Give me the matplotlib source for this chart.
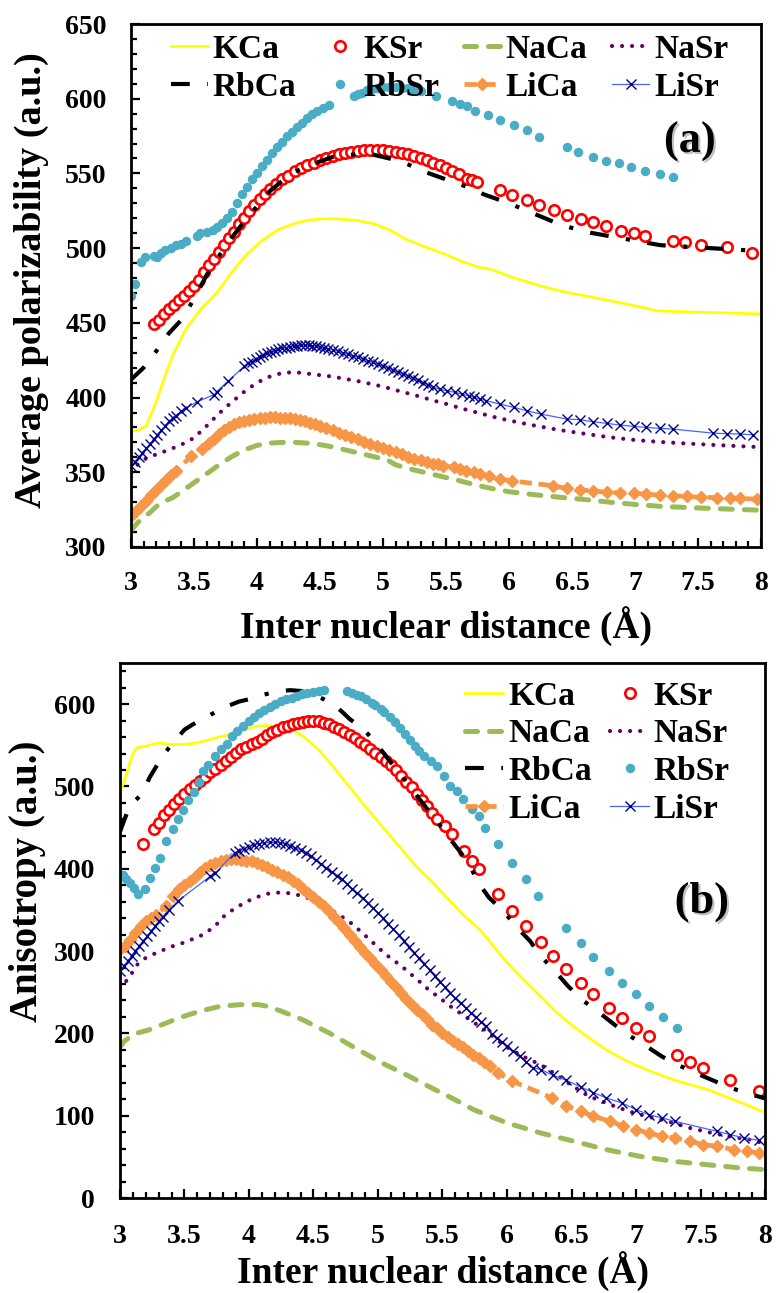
import matplotlib
matplotlib.use("Agg")
import matplotlib.pyplot as plt
import matplotlib.patheffects as pe
from matplotlib.ticker import MultipleLocator

plt.rcParams['font.family'] = ['Liberation Serif', 'DejaVu Serif']
plt.rcParams['font.weight'] = 'bold'

# ---------------- panel (a): average polarizability ----------------
kca_a_x = [3.00, 3.08, 3.12, 3.20, 3.26, 3.33, 3.43, 3.55, 3.69, 3.80, 3.92, 4.04, 4.16, 4.28, 4.39,
           4.50, 4.63, 4.80, 4.94, 5.06, 5.18, 5.33, 5.49, 5.63, 5.77, 5.85, 6.04, 6.28, 6.48, 6.67,
           6.85, 7.03, 7.18, 7.46, 7.75, 8.00]
kca_a_y = [377, 379, 381, 397, 412, 428, 445, 459, 471, 484, 496, 505, 512, 516, 518.5,
           519.5, 519.7, 518.5, 516, 512, 506, 501, 496, 491, 487, 486, 480, 474, 470, 467,
           464, 461, 458, 457.2, 456.6, 456]

ksr_a_x = [3.18, 3.22, 3.26, 3.30, 3.34, 3.38, 3.42, 3.46, 3.50, 3.54, 3.58, 3.62, 3.66, 3.70, 3.74,
           3.78, 3.82, 3.86, 3.90, 3.94, 3.98, 4.02, 4.06, 4.10, 4.15, 4.20, 4.25, 4.30, 4.35, 4.40,
           4.45, 4.50, 4.55, 4.60, 4.65, 4.70, 4.75, 4.80, 4.85, 4.90, 4.95, 5.00, 5.05, 5.10, 5.15,
           5.20, 5.25, 5.30, 5.35, 5.40, 5.45, 5.50, 5.55, 5.60, 5.67, 5.71, 5.75,
           5.93, 6.02, 6.14, 6.24, 6.36, 6.46, 6.57, 6.67, 6.77, 6.89, 6.99, 7.08, 7.30, 7.40, 7.52,
           7.73, 7.93]
ksr_a_y = [449, 452, 455.6, 459, 462, 465, 468, 471, 474.5, 479, 484, 488.5, 493, 497.5, 502,
           506.5, 511, 516, 520.5, 525, 529, 533, 536, 539.5, 543, 546, 548.5, 551.5, 553.5, 555.5,
           557, 559, 560.5, 561.8, 562.8, 563.8, 564.6, 565.2, 565.6, 565.8, 565.8, 565.6, 565.2, 564.6, 563.8,
           562.8, 561.6, 560.2, 558.8, 557, 555.4, 553.5, 551.5, 549.3, 546.6, 545.5, 544.4,
           538.8, 535.4, 532.0, 528.7, 525.3, 521.9, 519.7, 517.4, 514.5, 511.8, 510.0, 508.4, 505.1, 503.9, 502.4,
           500.6, 496.5]

naca_a_x = [3.00, 3.05, 3.10, 3.15, 3.20, 3.25, 3.33, 3.40, 3.50, 3.60, 3.70, 3.80, 3.90, 4.00, 4.10,
            4.20, 4.30, 4.40, 4.50, 4.60, 4.70, 4.80, 4.90, 5.00, 5.05, 5.10, 5.20, 5.30, 5.40, 5.50,
            5.60, 5.70, 5.80, 5.90, 6.00, 6.20, 6.40, 6.60, 6.80, 7.00, 7.20, 7.40, 7.60, 7.80, 8.00]
naca_a_y = [311, 316, 320, 323, 327, 330, 333, 337, 343, 349, 355, 360.5, 365, 368, 369.5,
            370, 370, 369.5, 368.5, 367, 365, 363, 361, 359, 357.5, 355, 352.5, 350.5, 348.5, 346.5,
            344.5, 342.3, 340.3, 338.5, 337, 335, 333.3, 331.8, 330, 328.5, 327.2, 326.5, 325.8, 325.2, 324.6]

nasr_a_x = [3.00, 3.05, 3.10, 3.20, 3.30, 3.40, 3.50, 3.60, 3.70, 3.80, 3.90, 4.00, 4.10, 4.20, 4.30,
            4.40, 4.50, 4.60, 4.70, 4.80, 4.90, 5.00, 5.10, 5.20, 5.30, 5.40, 5.50, 5.60, 5.70, 5.80,
            5.90, 6.00, 6.20, 6.40, 6.60, 6.80, 7.00, 7.20, 7.40, 7.60, 7.80, 8.00]
nasr_a_y = [350, 355, 358.5, 362, 365, 368.5, 373, 381, 389.5, 397, 404, 410, 414, 416.5, 417,
            416, 415, 414, 412.5, 411, 409.2, 407.3, 405, 402.8, 400.5, 398, 395.8, 393.3, 391, 388.8,
            386.6, 384.7, 381.3, 378.3, 375.8, 373.4, 371.6, 370.3, 369.3, 368.4, 367.6, 366.8]

rbca_a_x = [3.00, 3.10, 3.20, 3.30, 3.40, 3.50, 3.60, 3.70, 3.80, 3.90, 4.00, 4.10, 4.20, 4.30, 4.40,
            4.50, 4.60, 4.70, 4.80, 4.90, 5.00, 5.10, 5.20, 5.30, 5.40, 5.50, 5.60, 5.70, 5.80, 5.90,
            6.00, 6.20, 6.40, 6.60, 6.80, 7.00, 7.20, 7.40, 7.60, 7.80, 8.00]
rbca_a_y = [412, 420, 431, 443, 452, 466, 482, 495, 507, 518, 528, 538, 545, 551, 555,
            558, 561, 562, 563, 563, 561, 559, 556, 552, 549, 546, 543, 540, 536, 533,
            530, 523, 516, 511, 508, 505, 502, 501, 500, 499, 498]

rbsr_a_x = [3.00, 3.03, 3.08, 3.11, 3.18, 3.21, 3.24, 3.27, 3.32, 3.36, 3.40, 3.44, 3.52, 3.55, 3.60,
            3.65, 3.68, 3.72, 3.76, 3.80, 3.84, 3.88, 3.92, 3.96, 4.00, 4.04, 4.08, 4.12, 4.16, 4.20,
            4.24, 4.28, 4.32, 4.36, 4.40, 4.44, 4.48, 4.52, 4.57,
            4.77, 4.80, 4.83, 4.87, 4.91, 4.95, 5.00, 5.05, 5.10, 5.15, 5.20, 5.25, 5.30, 5.42, 5.55,
            5.61, 5.67, 5.73, 5.83, 5.93, 6.04, 6.14, 6.24, 6.46, 6.55, 6.67, 6.77, 6.87, 6.97, 7.08,
            7.20, 7.30]
rbsr_a_y = [468, 476, 491, 494, 495, 494, 497, 499, 500, 502, 503, 505, 508, 510, 511,
            512, 514, 517, 520, 524, 530, 536, 541, 546, 550, 555, 559, 564, 568, 571,
            575, 578, 581, 584, 587, 590, 592, 593.5, 595.5,
            601.7, 603, 604, 605.5, 606.5, 607.3, 607.8, 608, 607.8, 607.5, 607, 606, 605, 601.7, 598.3,
            596.5, 594.9, 592, 589.3, 586, 582.6, 579.2, 574.7, 568, 564.6, 561.2, 558.5, 556.7, 554.5, 551.8,
            549.6, 547.3]

lica_a_x = [3.00, 3.04, 3.08, 3.12, 3.16, 3.20, 3.24, 3.28, 3.32, 3.36, 3.48, 3.56,
            3.62, 3.66, 3.70, 3.74, 3.78, 3.82, 3.86, 3.90, 3.94, 3.98, 4.02, 4.06, 4.10, 4.14, 4.18,
            4.22, 4.26, 4.30, 4.34, 4.38, 4.42, 4.46, 4.50, 4.55, 4.60, 4.65, 4.70, 4.75, 4.80, 4.85,
            4.90, 4.95, 5.00, 5.05, 5.10, 5.15, 5.20, 5.25, 5.30, 5.35, 5.40, 5.44,
            5.48, 5.56, 5.61, 5.66, 5.72, 5.77, 5.84, 5.93, 6.02, 6.35, 6.46, 6.56, 6.67, 6.78, 6.88,
            6.99, 7.09, 7.20, 7.30, 7.41, 7.52, 7.65, 7.75, 7.83, 7.97]
lica_a_y = [320.5, 324, 327.5, 331, 334.5, 338, 341.5, 345, 348, 351, 361, 365.5,
            369.5, 372.5, 375.5, 378, 380, 382, 383.5, 384.5, 385.3, 385.8, 386.2, 386.5, 386.7, 386.7, 386.6,
            386.4, 386, 385.5, 384.8, 384, 383.2, 382.2, 381.2, 379.8, 378.2, 376.5, 375, 373.5, 372, 370.5,
            369, 367.8, 366.5, 365, 363.5, 362, 360.5, 359.2, 358, 356.8, 355.8, 355.3,
            354.5, 353.3, 352.1, 351, 349.9, 348.8, 347.7, 345.4, 344.3, 341, 339.2, 338.3, 337.6, 336.5, 336.3,
            335.9, 335.4, 334.7, 334.3, 333.8, 333.3, 333.1, 332.9, 332.5, 332.1]

lisr_a_x = [3.00, 3.03, 3.06, 3.09, 3.12, 3.15, 3.18, 3.21, 3.24, 3.27, 3.30, 3.33, 3.36, 3.40, 3.44,
            3.52, 3.66, 3.68, 3.77, 3.90, 3.93, 3.96, 3.99, 4.02, 4.05, 4.08, 4.11, 4.14, 4.17, 4.20,
            4.23, 4.26, 4.29, 4.32, 4.35, 4.38, 4.41, 4.44, 4.47, 4.50, 4.53, 4.56, 4.60, 4.64, 4.68,
            4.72, 4.76, 4.80, 4.84, 4.88, 4.92, 4.96, 5.00, 5.04, 5.08, 5.12, 5.16, 5.20, 5.24, 5.28,
            5.32, 5.36, 5.40, 5.45,
            5.51, 5.57, 5.63, 5.68, 5.72, 5.77, 5.82, 5.93, 6.04, 6.14, 6.25, 6.46, 6.56, 6.67, 6.78,
            6.88, 6.99, 7.09, 7.20, 7.30, 7.62, 7.73, 7.83, 7.94]
lisr_a_y = [354, 357, 360, 363, 366, 369, 372, 375, 378, 381, 384, 386, 388, 391, 393,
            397, 402, 404, 411, 421, 423, 424, 426, 427, 428.5, 429.5, 430.5, 431.5, 432.5, 433,
            433.5, 434, 434.5, 434.8, 434.9, 435, 435, 434.8, 434.4, 434, 433.4, 432.8, 432, 431, 430,
            429, 428, 427, 426, 424.8, 423.5, 422.2, 421, 419.8, 418.5, 417.2, 416, 414.5, 413, 411.5,
            410, 408.5, 407, 405.5,
            404.5, 403.5, 402.3, 401.2, 400.1, 399, 397.9, 395.6, 393.4, 391.2, 389, 385.6, 385.2, 383.8, 382.7,
            381.6, 380.7, 380, 379.4, 378.9, 376.2, 375.8, 375.6, 375.1]

# ---------------- panel (b): anisotropy ----------------
kca_b_x = [3.00, 3.03, 3.07, 3.10, 3.13, 3.20, 3.30, 3.40, 3.50, 3.60, 3.74, 3.85, 3.95, 4.05, 4.15,
           4.25, 4.33, 4.42, 4.51, 4.60, 4.70, 4.77, 4.90, 5.03, 5.16, 5.29, 5.42, 5.54, 5.66, 5.79,
           5.90, 6.00, 6.13, 6.26, 6.38, 6.51, 6.64, 6.77, 6.92, 7.08, 7.30, 7.55, 7.78, 8.00]
kca_b_y = [493, 505, 525, 540, 547, 549, 553, 551, 551, 553, 559, 563, 568, 573, 574,
           572, 569, 561, 549, 534, 515, 501, 476, 452, 428, 404, 384, 364, 344, 326,
           305, 286, 265, 245, 226, 209, 194, 180, 167, 156, 143, 132, 118, 104]

ksr_b_x = [3.18, 3.26, 3.30, 3.34, 3.38, 3.42, 3.46, 3.50, 3.54, 3.58, 3.62, 3.66, 3.70, 3.74, 3.78,
           3.82, 3.86, 3.90, 3.94, 3.98, 4.02, 4.06, 4.10, 4.14, 4.18, 4.22, 4.26, 4.30, 4.34, 4.38,
           4.42, 4.46, 4.50, 4.54, 4.58, 4.62, 4.66, 4.70, 4.74, 4.78, 4.82, 4.86, 4.90, 4.94, 4.98,
           5.02, 5.06, 5.10, 5.14, 5.18, 5.22, 5.26, 5.30, 5.34, 5.38, 5.42, 5.46,
           5.52, 5.57, 5.67, 5.73, 5.78, 5.93, 6.04, 6.15, 6.26, 6.36, 6.46, 6.57, 6.67, 6.79, 6.89,
           7.00, 7.10, 7.32, 7.42, 7.52, 7.73, 7.95]
ksr_b_y = [430, 448, 456, 465, 472, 479, 485, 491, 497, 502, 507, 512, 517, 521, 526,
           531, 536, 541, 545, 548, 551, 554, 558, 562, 566, 569, 572, 574, 575.5, 577,
           578.5, 579.5, 580, 579, 577.5, 575.5, 572.5, 569.5, 566, 562.5, 558.5, 554.5, 550.5, 546, 541,
           536, 531, 525.5, 519.5, 513, 506, 499, 491, 484, 476, 468, 460,
           452, 442, 421.7, 409.5, 399.4, 369, 348.7, 330.4, 311, 294, 277.7, 261.6, 247.3, 231.1, 219,
           206.8, 196.6, 174.3, 164.9, 158.1, 143.9, 129.7]

naca_b_x = [3.00, 3.03, 3.08, 3.14, 3.22, 3.33, 3.46, 3.62, 3.78, 3.94, 4.07, 4.14, 4.25, 4.41, 4.62,
            4.82, 5.03, 5.24, 5.44, 5.57, 5.74, 6.00, 6.26, 6.52, 6.77, 7.03, 7.29, 7.55, 7.81, 8.00]
naca_b_y = [183, 190, 196, 200.7, 204, 210.8, 219, 227, 233, 235, 235, 233, 227, 217, 200.7,
            182.5, 164.2, 148, 131.8, 121.6, 107.4, 91.2, 79, 68.9, 58.8, 50.6, 44.6, 40.5, 36.5, 34.5]

nasr_b_x = [3.00, 3.04, 3.08, 3.13, 3.18, 3.24, 3.33, 3.41, 3.49, 3.57, 3.63, 3.69, 3.74, 3.81, 3.90,
            4.02, 4.12, 4.20, 4.28, 4.36, 4.44, 4.51, 4.59, 4.69, 4.80, 4.90, 4.99, 5.06, 5.11, 5.18,
            5.30, 5.40, 5.48, 5.56, 5.69, 5.82, 5.95, 6.02, 6.15, 6.26, 6.38, 6.50, 6.63, 6.80, 6.94,
            7.09, 7.25, 7.42, 7.59, 7.75, 7.88, 7.98]
nasr_b_y = [254, 262, 270, 283, 290, 295, 301, 306, 310, 315, 319, 325, 331, 343, 353,
            363, 369, 371, 371, 369, 365.5, 361, 354, 345, 333, 319, 306, 296, 290, 282,
            266, 252, 243, 233, 219, 205, 189, 181, 170, 162, 150, 137, 124, 113.5, 105.5,
            99, 93, 85, 79, 74, 71, 67]

rbca_b_x = [3.00, 3.03, 3.06, 3.10, 3.17, 3.23, 3.28, 3.32, 3.40, 3.50, 3.56, 3.62, 3.70, 3.76, 3.84,
            3.92, 4.00, 4.10, 4.22, 4.32, 4.40, 4.49, 4.58, 4.65, 4.72, 4.78, 4.85, 4.92, 4.99, 5.08,
            5.18, 5.28, 5.38, 5.46, 5.52, 5.58, 5.63, 5.71, 5.77, 5.86, 5.97, 6.07, 6.18, 6.26, 6.37,
            6.47, 6.58, 6.70, 6.83, 6.93, 7.06, 7.20, 7.32, 7.46, 7.61, 7.73, 7.89, 8.00]
rbca_b_y = [445, 458, 470, 480, 491, 511, 524, 535, 551, 569, 575, 580, 587, 592, 598,
            603, 606, 611, 615.5, 617, 616, 612, 606, 600, 591, 582, 574, 564, 551.5, 533,
            514, 493, 473, 457, 444, 432, 422, 405, 385, 365, 349, 330, 312, 294, 276,
            258, 241, 227, 211, 199, 186.5, 172, 162, 152, 142, 134, 126, 121]

rbsr_b_x = [3.02, 3.05, 3.08, 3.11, 3.14, 3.19, 3.23, 3.27, 3.31, 3.36, 3.41, 3.45, 3.49, 3.53, 3.57,
            3.61, 3.64, 3.68, 3.74, 3.78, 3.83, 3.87, 3.91, 3.95, 4.00, 4.04, 4.08, 4.12, 4.16, 4.20,
            4.25, 4.29, 4.33, 4.37, 4.41, 4.45, 4.50, 4.54, 4.58,
            4.76, 4.80, 4.84, 4.87, 4.91, 4.95, 4.98, 5.02, 5.05, 5.09, 5.13, 5.17, 5.21, 5.25, 5.29,
            5.32, 5.36, 5.41, 5.46, 5.51, 5.56, 5.61, 5.66, 5.73, 5.78, 5.83, 5.93, 6.04, 6.15, 6.24,
            6.46, 6.57, 6.67, 6.79, 6.89, 7.00, 7.10, 7.21, 7.32]
rbsr_b_y = [392, 388, 383, 377, 369, 376, 389, 401.5, 413.6, 433.8, 448, 460, 472, 483, 493,
            506, 519, 526, 537, 545, 552, 561, 567, 573, 580, 584.5, 589, 593, 597, 600.5,
            604, 606, 608, 610, 612, 613.5, 615, 616.5, 617.5,
            615.8, 614, 611.5, 609.6, 606, 602, 598.6, 594, 590, 584, 578, 571, 563.6, 556, 549.4,
            543, 537.2, 531, 525, 513, 501, 494.6, 485, 473, 464, 450, 430, 407.5, 387.4, 367,
            328.4, 310, 293, 275.7, 261.6, 247.3, 233.1, 220.2, 206.8]

lica_b_x = [3.00, 3.04, 3.08, 3.12, 3.16, 3.20, 3.24, 3.28, 3.36, 3.41, 3.46, 3.50, 3.54, 3.58, 3.62,
            3.66, 3.70, 3.74, 3.78, 3.82, 3.86, 3.90, 3.94, 3.98, 4.02, 4.06, 4.10, 4.14, 4.18, 4.22,
            4.26, 4.30, 4.34, 4.38, 4.42, 4.46, 4.50, 4.54, 4.58, 4.62, 4.66, 4.70, 4.74, 4.78, 4.82,
            4.86, 4.90, 4.94, 4.98, 5.02, 5.06, 5.10, 5.14, 5.18, 5.22, 5.26, 5.30, 5.34, 5.38, 5.42,
            5.46, 5.50, 5.54, 5.58, 5.62, 5.66, 5.70, 5.74, 5.78, 5.82, 5.87, 5.93, 6.04, 6.35, 6.46,
            6.57, 6.67, 6.80, 6.90, 7.00, 7.10, 7.20, 7.30, 7.42, 7.52, 7.63, 7.76, 7.86, 7.95]
lica_b_y = [302, 306, 314, 322, 330, 336, 340, 344, 355, 367, 375, 380, 385, 390, 396,
            401, 405, 407.5, 409.5, 411, 411.5, 411.5, 411, 410, 409, 407, 404.5, 402, 399, 396,
            393, 390, 385.5, 381, 376, 371, 365.5, 360, 354.5, 348.7, 342, 335, 328, 320, 312,
            305, 298, 291, 284, 277, 270, 263, 256, 249, 242, 235, 229, 223, 217, 210,
            206, 201, 196, 191, 187, 183, 178, 174.3, 170, 165.5, 160.2, 152, 142, 121.6, 111.5,
            105.4, 99.3, 93.2, 87.2, 83.1, 79, 75, 73, 68.9, 64.9, 62.8, 58.8, 56.7, 54.7]

lisr_b_x = [3.00, 3.03, 3.06, 3.09, 3.12, 3.15, 3.18, 3.21, 3.24, 3.27, 3.30, 3.33, 3.38, 3.45, 3.70,
            3.74, 3.89, 3.92, 3.96, 4.00, 4.04, 4.08, 4.12, 4.16, 4.20, 4.24, 4.28, 4.32, 4.36, 4.40,
            4.44, 4.48, 4.52, 4.56, 4.60, 4.64, 4.68, 4.72, 4.76, 4.80, 4.84, 4.88, 4.92, 4.96, 5.00,
            5.04, 5.08, 5.12, 5.16, 5.20, 5.24, 5.28, 5.32, 5.36, 5.40, 5.44, 5.48, 5.52, 5.56, 5.60,
            5.64, 5.68, 5.72, 5.76, 5.80, 5.84, 5.88, 5.92, 5.96, 6.00, 6.05, 6.10, 6.15, 6.20, 6.26,
            6.36, 6.46, 6.57, 6.67, 6.77, 6.89, 7.00, 7.10, 7.20, 7.30, 7.63, 7.73, 7.84, 7.95]
lisr_b_y = [276, 282, 288, 294, 300, 306, 312, 318, 324, 330, 336, 342, 350, 361, 391,
            395, 419.7, 422, 424.5, 427, 429, 430.5, 431.5, 432, 432, 431.5, 430, 428, 425.5, 422.5,
            419, 415, 410.5, 405.5, 400.5, 396, 391.5, 387, 381.5, 376, 370, 364, 358, 352, 346,
            340, 333.5, 326.5, 319.5, 312, 305, 298, 291, 284, 277, 270, 263, 256, 249, 243,
            237, 231, 225, 219.5, 214, 208.5, 199, 194, 189, 184.5, 178, 172, 165, 158.5, 156,
            149, 143, 135, 128, 121.6, 115.5, 107.4, 101.3, 97.3, 93.2, 81, 77, 73, 70]

names = ['KCa', 'KSr', 'NaCa', 'NaSr', 'RbCa', 'RbSr', 'LiCa', 'LiSr']

styles = {
    'KCa': dict(color='#FFFF00', lw=1.9, ls='-'),
    'KSr': dict(ls='none', marker='o', ms=7.5, mfc='white', mec='#FF0000', mew=1.9),
    'NaCa': dict(color='#9BBB59', lw=3.6, ls=(0, (2.4, 2.4)), dash_capstyle='round'),
    'NaSr': dict(color='#660066', lw=3.0, ls=(0, (0.01, 2.4)), dash_capstyle='round'),
    'RbCa': dict(color='black', lw=3.0, ls=(0, (4.5, 4.2, 1.0, 4.2))),
    'RbSr': dict(ls='none', marker='o', ms=6.8, color='#4BACC6', mec='none'),
    'LiCa': dict(color='#F79646', lw=3.4, ls=(0, (2.6, 1.4)), marker='D', ms=6.5, mec='#F79646'),
    'LiSr': dict(color='#4466FF', lw=0.9, ls='-', marker='x', ms=7.5, mec='#000088', mew=1.0),
}

data_a = {
    'KCa': (kca_a_x, kca_a_y), 'KSr': (ksr_a_x, ksr_a_y), 'NaCa': (naca_a_x, naca_a_y),
    'NaSr': (nasr_a_x, nasr_a_y), 'RbCa': (rbca_a_x, rbca_a_y), 'RbSr': (rbsr_a_x, rbsr_a_y),
    'LiCa': (lica_a_x, lica_a_y), 'LiSr': (lisr_a_x, lisr_a_y),
}
data_b = {
    'KCa': (kca_b_x, kca_b_y), 'KSr': (ksr_b_x, ksr_b_y), 'NaCa': (naca_b_x, naca_b_y),
    'NaSr': (nasr_b_x, nasr_b_y), 'RbCa': (rbca_b_x, rbca_b_y), 'RbSr': (rbsr_b_x, rbsr_b_y),
    'LiCa': (lica_b_x, lica_b_y), 'LiSr': (lisr_b_x, lisr_b_y),
}

W, H = 776, 1293
fig = plt.figure(figsize=(W / 100, H / 100), dpi=100)
ax1 = fig.add_axes([131 / W, 1 - 547 / H, 630 / W, 523 / H])
ax2 = fig.add_axes([120 / W, 1 - 1198 / H, 645 / W, 535 / H])


def style_axes(ax, ymin, ymax, ymaj, ymin_step, xpad, ypad):
    ax.set_xlim(3, 8)
    ax.set_ylim(ymin, ymax)
    ax.xaxis.set_major_locator(MultipleLocator(0.5))
    ax.xaxis.set_minor_locator(MultipleLocator(0.1))
    ax.yaxis.set_major_locator(MultipleLocator(ymaj))
    ax.yaxis.set_minor_locator(MultipleLocator(ymin_step))
    ax.tick_params(which='both', direction='in', top=False, right=False, width=1.6)
    ax.tick_params(which='major', length=6.5)
    ax.tick_params(which='minor', length=4.5)
    ax.tick_params(axis='x', which='major', pad=xpad, labelsize=20)
    ax.tick_params(axis='y', which='major', pad=ypad, labelsize=20)
    for s in ax.spines.values():
        s.set_linewidth(2.0)
    ax.xaxis.set_major_formatter(matplotlib.ticker.FuncFormatter(lambda v, p: f'{v:g}'))


style_axes(ax1, 300, 650, 50, 10, 17.5, 17.5)
style_axes(ax2, 0, 650, 100, 20, 19, 18)

handles_a, handles_b = {}, {}
for n in names:
    x, y = data_a[n]
    handles_a[n], = ax1.plot(x, y, label=n, **styles[n])
    x, y = data_b[n]
    handles_b[n], = ax2.plot(x, y, label=n, **styles[n])

# legend (a): 4 columns, rows KCa..NaSr / RbCa..LiSr
order_a = ['KCa', 'RbCa', 'KSr', 'RbSr', 'NaCa', 'LiCa', 'NaSr', 'LiSr']
ax1.legend([handles_a[n] for n in order_a], order_a, ncol=4, loc='upper left',
           bbox_to_anchor=(0.0635, 0.981), borderaxespad=0, borderpad=0, frameon=False,
           prop=dict(family='Liberation Serif', weight='bold', size=24),
           handlelength=1.1, handletextpad=0.15, columnspacing=0.75, labelspacing=0.2,
           numpoints=1)

order_b = ['KCa', 'NaCa', 'RbCa', 'LiCa', 'KSr', 'NaSr', 'RbSr', 'LiSr']
ax2.legend([handles_b[n] for n in order_b], order_b, ncol=2, loc='upper left',
           bbox_to_anchor=(0.535, 0.967), borderaxespad=0, borderpad=0, frameon=False,
           prop=dict(family='Liberation Serif', weight='bold', size=24),
           handlelength=1.15, handletextpad=0.15, columnspacing=0.55, labelspacing=0.2,
           numpoints=1)

shadow = [pe.SimplePatchShadow(offset=(1.5, -1.5), shadow_rgbFace='0.6', alpha=0.6), pe.Normal()]
ax1.text(0.887, 0.776, '(a)', transform=ax1.transAxes, ha='center', va='center',
         fontsize=32, fontweight='bold', path_effects=shadow)
ax2.text(0.902, 0.553, '(b)', transform=ax2.transAxes, ha='center', va='center',
         fontsize=32, fontweight='bold', path_effects=shadow)

fig.text(446 / W, 1 - 638 / H, 'Inter nuclear distance (Å)', ha='center', va='baseline',
         fontsize=27, fontweight='bold')
fig.text(443 / W, 1 - 1283 / H, 'Inter nuclear distance (Å)', ha='center', va='baseline',
         fontsize=27, fontweight='bold')
fig.text(31 / W, 1 - 280 / H, 'Average polarizability (a.u.)', ha='center', va='center',
         rotation=90, fontsize=27.5, fontweight='bold')
fig.text(28 / W, 1 - 881 / H, 'Anisotropy (a.u.)', ha='center', va='center',
         rotation=90, fontsize=28, fontweight='bold')

fig.savefig('out.png', dpi=100)
